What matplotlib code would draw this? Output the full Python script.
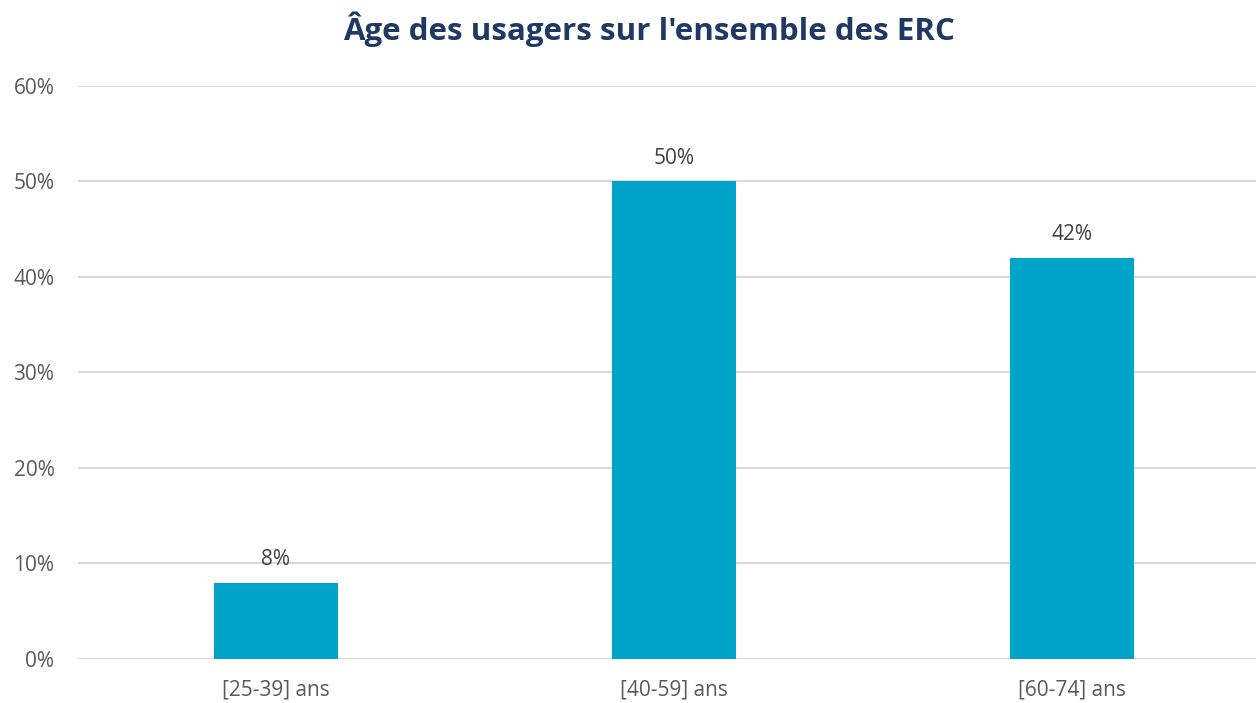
import matplotlib
matplotlib.use("Agg")
from matplotlib import pyplot as plt
from matplotlib.ticker import PercentFormatter

# données
categories = ["[25-39] ans", "[40-59] ans", "[60-74] ans"]
valeurs = [0.08, 0.50, 0.42]
labels = ["8%", "50%", "42%"]

plt.rcParams["font.family"] = ["Open Sans", "DejaVu Sans"]

fig = plt.figure(figsize=(12.56, 7.03), dpi=100)
ax = fig.add_axes([0.0621, 0.0626, 0.9379, 0.8151])

x = range(len(categories))
bars = ax.bar(x, valeurs, width=0.31, color="#00A4C8", zorder=3)
for b, lab in zip(bars, labels):
    ax.annotate(lab, (b.get_x() + b.get_width() / 2, b.get_height()),
                xytext=(0, 9), textcoords="offset points",
                ha="center", va="bottom", fontsize=15, color="#404040")

ax.set_ylim(0, 0.6)
ax.set_xlim(-0.497, 2.462)
ax.set_yticks([0, 0.1, 0.2, 0.3, 0.4, 0.5, 0.6])
ax.yaxis.set_major_formatter(PercentFormatter(1.0, decimals=0))
ax.set_xticks(list(x))
ax.set_xticklabels(categories)
ax.tick_params(axis="both", length=0, labelsize=15, labelcolor="#595959")
ax.tick_params(axis="y", pad=17)
ax.tick_params(axis="x", pad=15)
ax.grid(axis="y", color="#D9D9D9", linewidth=1.5, zorder=0)
for s in ax.spines.values():
    s.set_visible(False)

fig.text(0.5167, 0.958, "Âge des usagers sur l'ensemble des ERC", ha="center", va="center",
         fontsize=22.5, fontweight="bold", color="#203864")

fig.savefig("out.png", dpi=100)
